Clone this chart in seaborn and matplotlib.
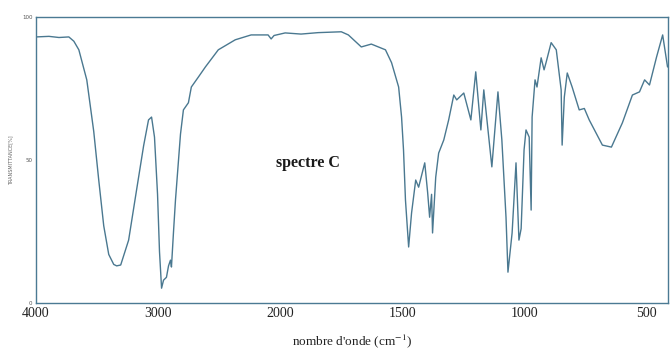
import numpy as np
import matplotlib
matplotlib.use("Agg")
import matplotlib.pyplot as plt
from matplotlib.ticker import FixedLocator, MultipleLocator
import seaborn as sns

# --- spectre C : nombre d'onde (cm-1) / transmittance (%) ---
wavenumber = [4000, 3894, 3812, 3731, 3690, 3649, 3584, 3527, 3486, 3445,
              3404, 3363, 3339, 3306, 3241, 3176, 3118, 3078, 3053, 3029,
              3004, 2988, 2971, 2955, 2931, 2914, 2898, 2890, 2873, 2857,
              2816, 2792, 2751, 2727, 2669, 2612, 2506, 2367, 2237, 2098,
              2073, 2049, 1979, 1914, 1844, 1749, 1720, 1667, 1626, 1568,
              1543, 1514, 1502, 1494, 1486, 1473, 1461, 1444, 1432, 1407,
              1395, 1387, 1379, 1375, 1362, 1350, 1329, 1309, 1288, 1276,
              1247, 1218, 1198, 1177, 1165, 1132, 1107, 1091, 1074, 1066,
              1049, 1033, 1021, 1012, 1000, 992, 979, 971, 967, 955,
              947, 930, 918, 910, 889, 868, 848, 844, 835, 823,
              803, 774, 753, 733, 679, 642, 597, 556, 527, 506,
              486, 457, 432, 412]
transmittance = [93.0, 93.2, 92.8, 93.0, 91.5, 88.5, 78, 60, 43, 27,
                 17, 13.5, 13, 13.3, 22, 39.5, 55, 64, 65, 58,
                 38, 18, 5.2, 8, 9, 13, 15, 12.6, 25, 36,
                 59, 67.5, 70, 75.5, 79, 82.5, 88.5, 92, 93.7, 93.7,
                 92.3, 93.5, 94.4, 94, 94.5, 94.8, 93.7, 89.5, 90.5, 88.5,
                 84, 75.5, 65, 53.5, 36, 19.6, 31.5, 43, 40.5, 49,
                 38.5, 30, 38, 24.5, 44, 52.4, 57, 64, 72.7, 71,
                 73.4, 64, 80.8, 60.5, 74.5, 47.6, 73.8, 57, 30, 10.8,
                 24.5, 49, 22, 26, 53.5, 60.5, 58, 32.5, 65, 78,
                 75.5, 85.7, 81.5, 84, 91, 88.5, 74.5, 55.2, 72, 80.4,
                 75.5, 67.5, 68, 64, 55.2, 54.5, 63, 72.7, 73.8, 78,
                 76.2, 86, 93.7, 82.5]

x_major = [4000, 3000, 2000, 1500, 1000, 500]
y_major = [0, 50, 100]

line_col = "#4a7890"
frame_col = "#4b7a93"

sns.set_style("white")
plt.rcParams["font.family"] = ["Liberation Serif", "DejaVu Serif"]
plt.rcParams["mathtext.fontset"] = "stix"

fig = plt.figure(figsize=(6.72, 3.52), dpi=100)
ax = fig.add_axes([0.0536, 0.139, 0.9405, 0.813])


# échelle divisée par 2 au-dessus de 2000 cm-1
def fwd(x):
    x = np.asarray(x, dtype=float)
    return np.where(x > 2000, 2000 + (x - 2000) / 2, x)


def inv(y):
    y = np.asarray(y, dtype=float)
    return np.where(y > 2000, 2000 + (y - 2000) * 2, y)


ax.set_xscale("function", functions=(fwd, inv))

sns.lineplot(x=wavenumber, y=transmittance, sort=False, ax=ax,
             color=line_col, linewidth=1.0)

ax.set_xlim(4000, 410)
ax.set_ylim(0, 100)

ax.xaxis.set_major_locator(FixedLocator(x_major))
ax.xaxis.set_minor_locator(FixedLocator(list(range(4000, 2000, -200)) + list(range(2000, 400, -100))))
ax.set_xticklabels([str(v) for v in x_major], fontsize=10)
ax.yaxis.set_major_locator(FixedLocator(y_major))
ax.yaxis.set_minor_locator(MultipleLocator(10))
ax.set_yticklabels([str(v) for v in y_major], fontsize=4, family="DejaVu Sans")

ax.tick_params(axis="x", which="both", direction="inout", length=3, width=0.8,
               colors=frame_col, labelcolor="#222222", pad=1)
ax.tick_params(axis="y", which="both", direction="inout", length=3, width=0.8,
               colors=frame_col, labelcolor="#555555", pad=1)

for s in ax.spines.values():
    s.set_color(frame_col)
    s.set_linewidth(1.0)
    s.set_visible(True)

ax.set_xlabel("nombre d'onde (cm$^{-1}$)", fontsize=9.5, labelpad=9, color="#222222")
ax.set_ylabel("TRANSMITTANCE[%]", fontsize=3.5, family="DejaVu Sans",
              color="#666666", labelpad=6)

ax.text(0.43, 0.49, "spectre C", transform=ax.transAxes, ha="center", va="center",
        fontsize=11.5, fontweight="bold", color="#1a1a1a")

fig.savefig("out.png", dpi=100, facecolor="white")
